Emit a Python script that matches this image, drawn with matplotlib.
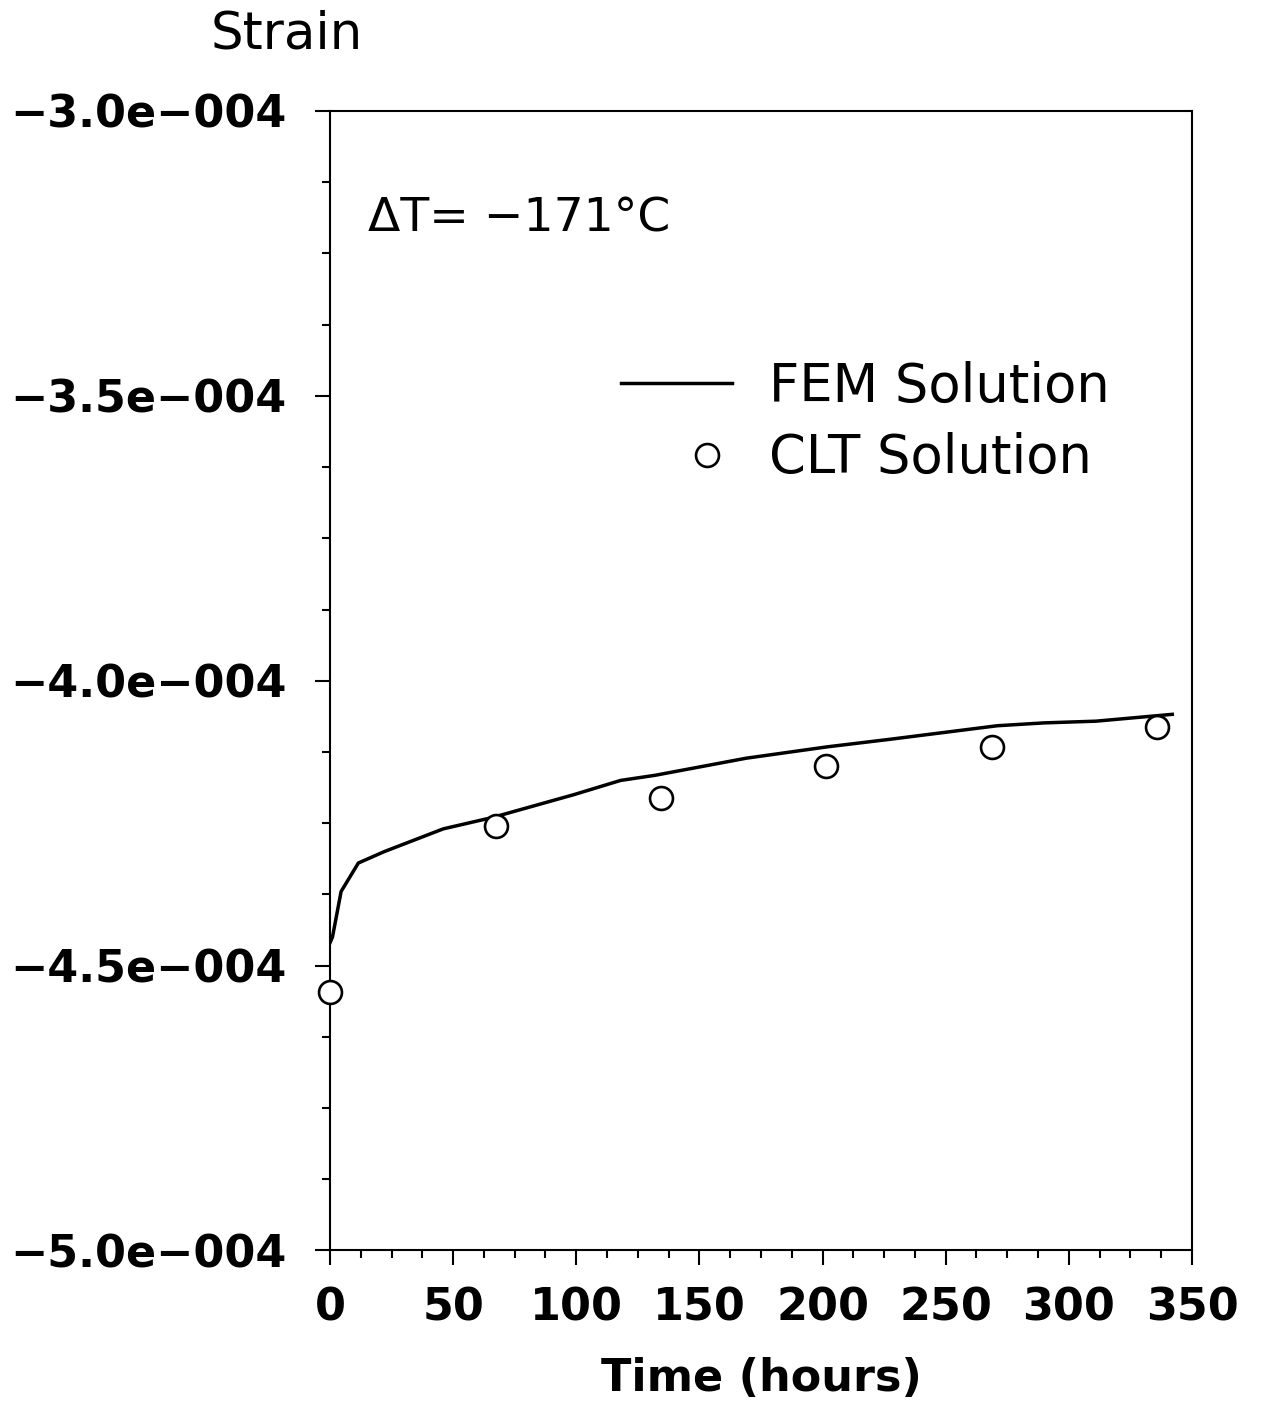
import numpy as np
import matplotlib
matplotlib.use('Agg')
import matplotlib.pyplot as plt
from matplotlib.ticker import MultipleLocator, FixedLocator, FixedFormatter
from matplotlib.legend_handler import HandlerLine2D

# FEM solution (time in hours, strain)
fem_time = [0, 1, 4.5, 11.5, 22, 46, 66, 99, 118, 132, 169, 202, 227, 271, 290, 311, 342]
fem_strain = np.array([-4.46, -4.45, -4.37, -4.32, -4.30, -4.26, -4.24, -4.20, -4.175,
                       -4.166, -4.136, -4.116, -4.103, -4.079, -4.074, -4.071, -4.059]) * 1e-4

# CLT solution
clt_time = [0, 67.2, 134.4, 201.6, 268.8, 336]
clt_strain = np.array([-4.546, -4.255, -4.206, -4.149, -4.116, -4.082]) * 1e-4

y_ticks = [-5.0e-4, -4.5e-4, -4.0e-4, -3.5e-4, -3.0e-4]
y_labels = ['\u22125.0e\u2212004', '\u22124.5e\u2212004', '\u22124.0e\u2212004',
            '\u22123.5e\u2212004', '\u22123.0e\u2212004']
x_ticks = [0, 50, 100, 150, 200, 250, 300, 350]


class RightMarker(HandlerLine2D):
    # single marker is drawn at the middle of xdata -> shift it to the right part
    def get_xdata(self, legend, xdescent, ydescent, width, height, fontsize):
        xdata = np.array([-xdescent + 0.56 * width, -xdescent + width])
        return xdata, np.array([-xdescent + 0.78 * width])


fig = plt.figure(figsize=(12.62, 14.05), dpi=100)
ax = fig.add_axes([0.2615, 0.110, 0.683, 0.811])

ax.plot(fem_time, fem_strain, color='black', lw=2.5, label='FEM Solution')
clt, = ax.plot(clt_time, clt_strain, 'o', mfc='white', mec='black', ms=16.5, mew=1.9,
               label='CLT Solution', clip_on=False, zorder=5)

ax.set_xlim(0, 350)
ax.set_ylim(-5.0e-4, -3.0e-4)

ax.xaxis.set_major_locator(FixedLocator(x_ticks))
ax.xaxis.set_minor_locator(MultipleLocator(12.5))
ax.yaxis.set_major_locator(FixedLocator(y_ticks))
ax.yaxis.set_major_formatter(FixedFormatter(y_labels))
ax.yaxis.set_minor_locator(MultipleLocator(0.125e-4))

ax.tick_params(which='both', direction='out', top=False, right=False, width=1.5)
ax.tick_params(which='major', length=11)
ax.tick_params(which='minor', length=5.5)
ax.tick_params(axis='y', which='major', pad=20, labelsize=32)
ax.tick_params(axis='x', which='major', pad=15, labelsize=32)
for lab in ax.get_xticklabels() + ax.get_yticklabels():
    lab.set_fontweight('bold')

for sp in ax.spines.values():
    sp.set_linewidth(1.5)

ax.set_xlabel('Time (hours)', fontsize=32, fontweight='bold', labelpad=20)
ax.annotate('Strain', xy=(-0.05, 1.067), xycoords='axes fraction',
            ha='center', va='center', fontsize=37)
ax.text(0.044, 0.905, '\u0394T= \u2212171\u00b0C', transform=ax.transAxes,
        ha='left', va='center', fontsize=34)

ax.legend(loc='upper right', bbox_to_anchor=(0.935, 0.804), frameon=False,
          fontsize=38, handlelength=2.1, handletextpad=0.7, labelspacing=0.37,
          borderpad=0, handler_map={clt: RightMarker()})

fig.savefig('out.png', dpi=100)
